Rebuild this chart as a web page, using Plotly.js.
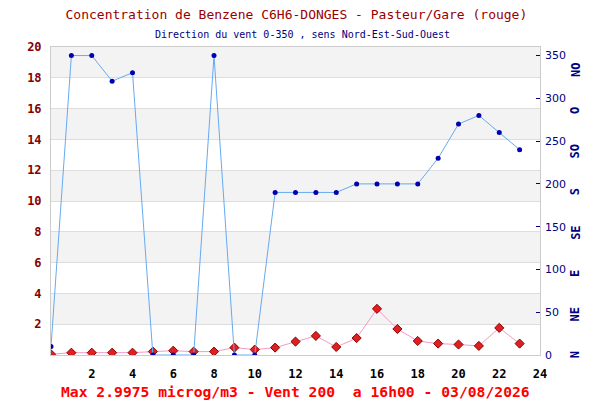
<!DOCTYPE html>
<html><head><meta charset="utf-8">
<script src="https://cdn.plot.ly/plotly-3.0.1.min.js"></script>
<style>html,body{margin:0;padding:0;background:#fff}#chart{width:600px;height:400px}</style>
</head><body><div id="chart"></div>
<script>
var hours = [0,1,2,3,4,5,6,7,8,9,10,11,12,13,14,15,16,17,18,19,20,21,22,23];
var benzene = [0.05,0.15,0.15,0.15,0.15,0.22,0.28,0.22,0.22,0.48,0.35,0.48,0.87,1.24,0.52,1.1,2.9975,1.69,0.91,0.74,0.68,0.59,1.76,0.74];
var windDir = [10,350,350,320,330,0,0,0,350,0,0,190,190,190,190,200,200,200,200,230,270,280,260,240];
var xTicks = [2,4,6,8,10,12,14,16,18,20,22,24];
var leftTicks = [2,4,6,8,10,12,14,16,18,20];
var rightTicks = [0,50,100,150,200,250,300,350];
var dirLabels = ["N","NE","E","SE","S","SO","O","NO"];
var dirPos = [0,47.5,95,143,190.5,238,285.5,333.5];
var bands = [[2,4],[6,8],[10,12],[14,16],[18,20]];

var traces = [
  {x: hours, y: windDir, yaxis: 'y2', type: 'scatter', mode: 'lines+markers',
   line: {color: '#66aaf0', width: 1}, marker: {color: '#0000b0', size: 5},
   hoverinfo: 'none'},
  {x: hours, y: benzene, yaxis: 'y', type: 'scatter', mode: 'lines+markers',
   line: {color: '#f29ac6', width: 1},
   marker: {symbol: 'diamond', color: '#e02020', size: 7, line: {color: '#8a0000', width: 1}},
   hoverinfo: 'none'}
];

var shapes = bands.map(function(b){
  return {type: 'rect', xref: 'paper', x0: 0, x1: 1, yref: 'y', y0: b[0], y1: b[1],
          fillcolor: '#f3f3f3', line: {width: 0}, layer: 'below'};
});

var annotations = [
  {text: 'Direction du vent 0-350 , sens Nord-Est-Sud-Ouest', xref: 'paper', yref: 'paper',
   x: 0.515, y: 1.042, xanchor: 'center', yanchor: 'middle', showarrow: false,
   font: {family: 'DejaVu Sans Mono', size: 10, color: '#000080'}},
  {text: 'Max 2.9975 microg/m3 - Vent 200  a 16h00 - 03/08/2026', xref: 'paper', yref: 'paper',
   x: 0.50, y: -0.12, xanchor: 'center', yanchor: 'middle', showarrow: false,
   font: {family: 'DejaVu Sans Mono', size: 14.7, color: '#ff0000', weight: 'bold'}}
];
dirLabels.forEach(function(t, i){
  annotations.push({text: t, xref: 'paper', yref: 'y2', x: 1.072, y: dirPos[i],
    xanchor: 'center', yanchor: 'middle', showarrow: false, textangle: -90,
    font: {family: 'DejaVu Sans Mono', size: 12, color: '#000080', weight: 'bold'}});
});

var layout = {
  width: 600, height: 400,
  margin: {l: 50.5, r: 59.5, t: 47, b: 45},
  paper_bgcolor: '#ffffff', plot_bgcolor: '#ffffff',
  showlegend: false,
  title: {text: 'Concentration de Benzene C6H6-DONGES - Pasteur/Gare (rouge)',
          x: 0.494, xref: 'container', xanchor: 'center', y: 0.965, yref: 'container', yanchor: 'middle',
          font: {family: 'DejaVu Sans Mono', size: 13, color: '#990000'}},
  xaxis: {range: [0, 24], tickvals: xTicks, showgrid: false, zeroline: false,
          showline: true, linecolor: '#cccccc', linewidth: 1, mirror: true,
          ticks: '', ticklabelstandoff: 8,
          tickfont: {family: 'DejaVu Sans Mono', size: 12, color: '#000000', weight: 'bold'}},
  yaxis: {range: [0, 20], tickvals: leftTicks, showgrid: true, gridcolor: '#dddddd', zeroline: false,
          showline: true, linecolor: '#cccccc', linewidth: 1, mirror: true, ticks: '',
          ticklabelstandoff: 6,
          tickfont: {family: 'DejaVu Sans Mono', size: 12, color: '#880000', weight: 'bold'}},
  yaxis2: {range: [0, 360], overlaying: 'y', side: 'right', tickvals: rightTicks,
           showgrid: false, zeroline: false, showline: false,
           ticks: 'inside', ticklen: 4, tickcolor: '#000080', tickwidth: 1,
           ticklabelstandoff: 4,
           tickfont: {family: 'DejaVu Sans', size: 11, color: '#000080'}},
  shapes: shapes,
  annotations: annotations
};

Plotly.newPlot('chart', traces, layout, {staticPlot: true, displayModeBar: false});
</script>
</body></html>
